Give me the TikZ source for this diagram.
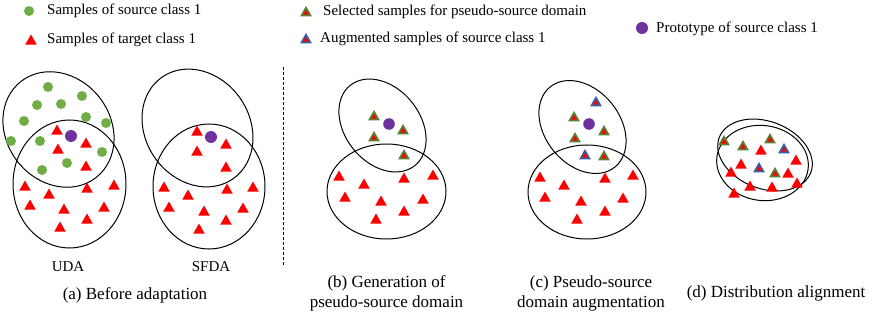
\documentclass[tikz,border=0pt]{standalone}
\usepackage{fontspec}
\setmainfont{Liberation Serif}
\definecolor{srcgreen}{HTML}{70AD47}
\definecolor{protopurple}{HTML}{7030A0}
\definecolor{tgred}{HTML}{FF0000}
\definecolor{selgreen}{HTML}{548235}
\definecolor{augblue}{HTML}{3560A8}
\tikzset{
  ell/.style={draw=black, line width=1pt},
  legtext/.style={anchor=west, font=\fontsize{15}{18}\selectfont, inner sep=0pt},
  captext/.style={align=center, font=\fontsize{17}{20}\selectfont, inner sep=0pt},
  subtext/.style={font=\fontsize{15}{18}\selectfont, inner sep=0pt},
  rtri/.pic={\fill[tgred] (-5.8,4.7) -- (5.8,4.7) -- (0,-5.5) -- cycle;},
  gtri/.pic={\fill[selgreen] (-6,4.5) -- (6,4.5) -- (0,-6) -- cycle;
             \fill[tgred] (-2.8,2.6) -- (2.8,2.6) -- (0,-2.3) -- cycle;},
  btri/.pic={\fill[augblue] (-6,4.5) -- (6,4.5) -- (0,-6) -- cycle;
             \fill[tgred] (-2.8,2.6) -- (2.8,2.6) -- (0,-2.3) -- cycle;},
}
\begin{document}
\begin{tikzpicture}[x=1pt, y=-1pt]
\useasboundingbox (0,0) rectangle (872,315);

% ---------- legend ----------
\fill[srcgreen] (29,11) circle[radius=5pt];
\node[legtext] (l1) at (47,11) {Samples of source class 1};
\pic at (31,40) {rtri};
\node[legtext] (l2) at (47,40) {Samples of target class 1};
\pic at (306,12) {gtri};
\node[legtext] (l3) at (323,12) {Selected samples for pseudo-source domain};
\pic at (306,39) {btri};
\node[legtext] (l4) at (320,39) {Augmented samples of source class 1};
\fill[protopurple] (642,28) circle[radius=6pt];
\node[legtext] (l5) at (656,29) {Prototype of source class 1};

% ---------- (a) UDA ----------
\draw[ell, shift={(58.5,129.5)}, rotate=-52] (0,0) ellipse [x radius=61pt, y radius=52pt];
\draw[ell] (69.5,184) ellipse [x radius=56.5pt, y radius=64pt];
\foreach \x/\y in {48/87, 82/96, 37/105, 61/104, 86/117, 24/121, 106/123, 11/141, 40/141, 102/152, 67/163, 42/170}
  \fill[srcgreen] (\x,\y) circle[radius=5pt];
\fill[protopurple] (71,136) circle[radius=6pt];
\foreach \x/\y in {57/130, 86/143, 58/149, 86/166, 25/186, 49/194, 87/188, 114/185, 30/205, 64/209, 104/207, 87/219, 60/227}
  \pic at (\x,\y) {rtri};
\node[subtext] (uda) at (68,267) {UDA};

% ---------- (a) SFDA ----------
\draw[ell, shift={(197.5,128)}, rotate=-55] (0,0) ellipse [x radius=62pt, y radius=52pt];
\draw[ell] (209,186.5) ellipse [x radius=56pt, y radius=62.5pt];
\fill[protopurple] (211,137) circle[radius=6pt];
\foreach \x/\y in {197/131, 226/144, 197/151, 226/167, 164/187, 188/195, 227/189, 253/187, 169/207, 204/211, 243/208, 226/220, 199/229}
  \pic at (\x,\y) {rtri};
\node[subtext] (sfda) at (211,267) {SFDA};

\node[captext] (capa) at (135,295) {(a) Before adaptation};

% divider
\coordinate (dtop) at (283,67);
\coordinate (dbot) at (283,265);
\draw[line width=1pt, dash pattern=on 3pt off 2pt] (dtop) -- (dbot);

% ---------- (b) ----------
\draw[ell, shift={(382.5,125.5)}, rotate=-51] (0,0) ellipse [x radius=51.5pt, y radius=37.5pt];
\draw[ell] (386.5,191.5) ellipse [x radius=59.5pt, y radius=47.5pt];
\fill[protopurple] (389,124) circle[radius=5.8pt];
\foreach \x/\y in {374/116, 403/130, 374/137, 404/155}
  \pic at (\x,\y) {gtri};
\foreach \x/\y in {339/176, 364/184, 404/178, 433/175, 345/197, 381/201, 423/199, 404/211, 376/219}
  \pic at (\x,\y) {rtri};
\node[captext] (capb) at (386.5,293) {(b) Generation of\\pseudo-source domain};

% ---------- (c) ----------
\draw[ell, shift={(582.5,127)}, rotate=-51] (0,0) ellipse [x radius=51.5pt, y radius=37.5pt];
\draw[ell] (587,192) ellipse [x radius=59pt, y radius=47pt];
\fill[protopurple] (589,124) circle[radius=5.8pt];
\foreach \x/\y in {574/117, 604/131, 575/138, 604/156}
  \pic at (\x,\y) {gtri};
\foreach \x/\y in {596/102, 585/155}
  \pic at (\x,\y) {btri};
\foreach \x/\y in {540/177, 564/185, 605/178, 633/175, 545/197, 581/201, 623/198, 605/211, 577/219}
  \pic at (\x,\y) {rtri};
\node[captext] (capc) at (591,293) {(c) Pseudo-source\\domain augmentation};

% ---------- (d) ----------
\draw[ell, shift={(765,155)}, rotate=-21] (0,0) ellipse [x radius=49pt, y radius=33.6pt];
\draw[ell, shift={(762.5,163)}, rotate=-8] (0,0) ellipse [x radius=46pt, y radius=37.5pt];
\foreach \x/\y in {724/141, 743/146, 770/139, 775/173}
  \pic at (\x,\y) {gtri};
\foreach \x/\y in {784/149, 759/168}
  \pic at (\x,\y) {btri};
\foreach \x/\y in {761/150, 741/164, 796/160, 731/172, 788/173, 750/186, 772/187, 797/183, 734/193}
  \pic at (\x,\y) {rtri};
\node[captext] (capd) at (776,293) {(d) Distribution alignment};
\end{tikzpicture}
\end{document}
